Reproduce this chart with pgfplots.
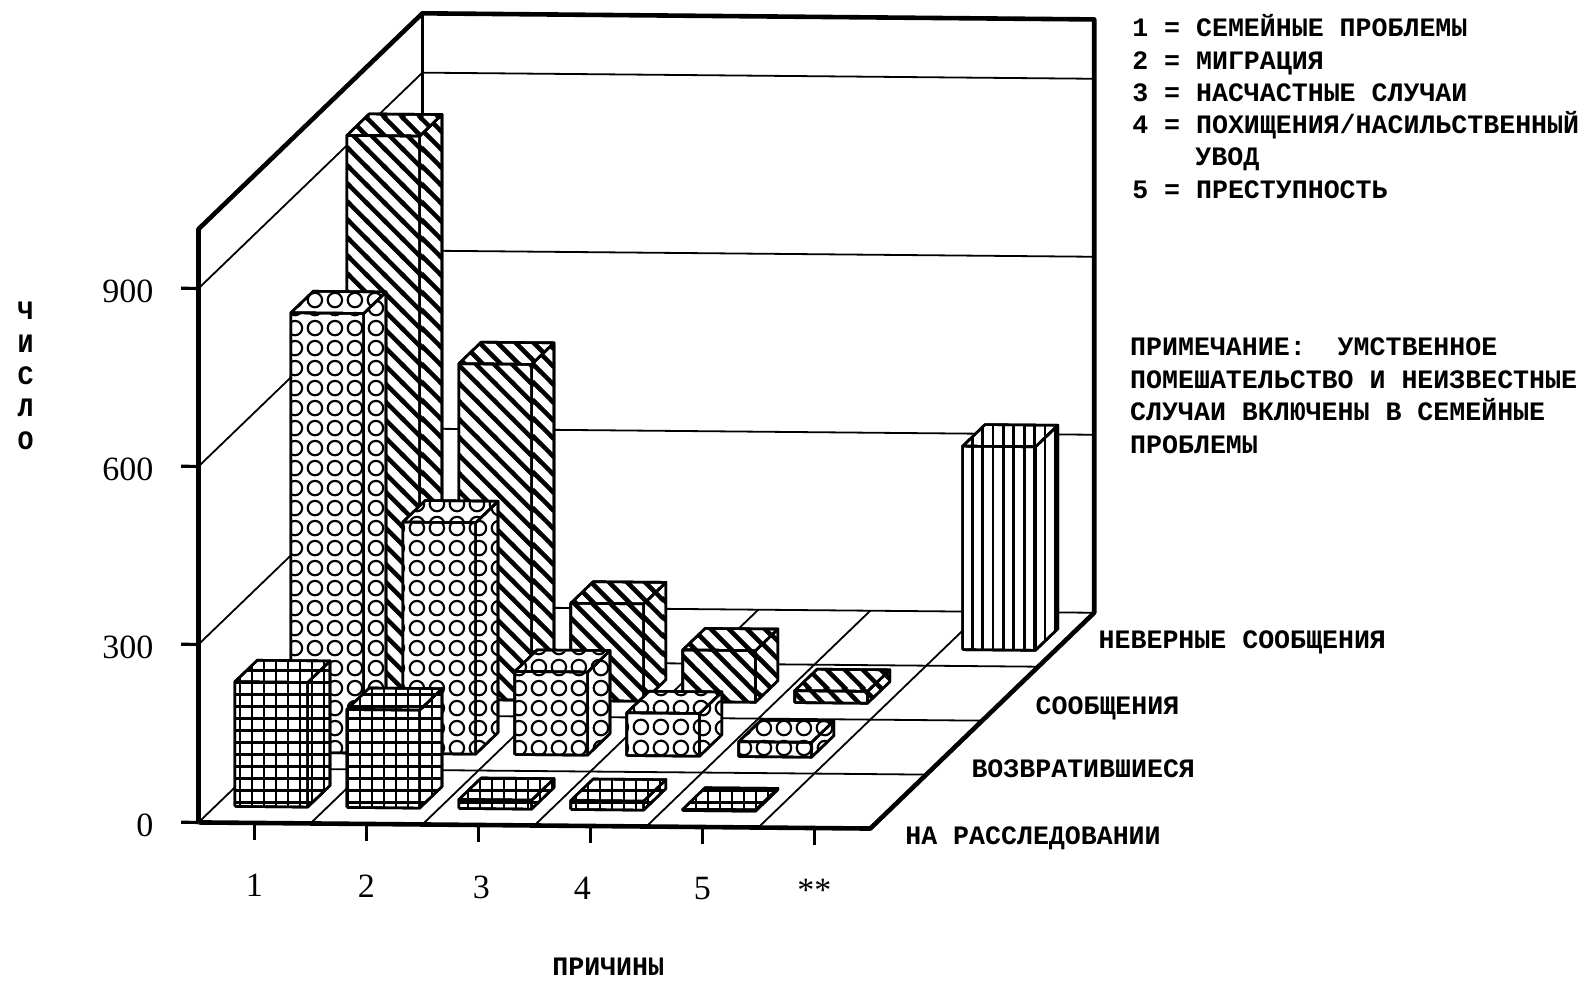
\documentclass[border=0pt]{standalone}
\usepackage{fontspec}
\usepackage{pgfplots}
\pgfplotsset{compat=1.18}
\usetikzlibrary{patterns}
\newfontfamily\labfont{Liberation Mono}
\newfontfamily\serfont{Liberation Serif}
\newcommand\lbl{\fontsize{13.3}{16.2}\selectfont\labfont\bfseries}
\newcommand\num{\fontsize{17}{18}\selectfont\serfont}
\newcommand\rowlab[3]{\hspace*{#1}\smash{\raisebox{#2}{#3}}}
% hatch fills of the bars
\pgfdeclarepatternformonly{gridP}{\pgfqpoint{-1pt}{-1pt}}{\pgfqpoint{7pt}{7pt}}{\pgfqpoint{6pt}{6pt}}{%
  \pgfsetlinewidth{1.3pt}%
  \pgfpathmoveto{\pgfqpoint{0pt}{-1pt}}\pgfpathlineto{\pgfqpoint{0pt}{7pt}}%
  \pgfpathmoveto{\pgfqpoint{-1pt}{0pt}}\pgfpathlineto{\pgfqpoint{7pt}{0pt}}%
  \pgfusepath{stroke}}
\pgfdeclarepatternformonly{ringP}{\pgfqpoint{0pt}{0pt}}{\pgfqpoint{10.2pt}{10.2pt}}{\pgfqpoint{10.2pt}{10.2pt}}{%
  \pgfsetlinewidth{1.1pt}%
  \pgfpathcircle{\pgfqpoint{5.1pt}{5.1pt}}{3.7pt}%
  \pgfusepath{stroke}}
\pgfdeclarepatternformonly{stripeP}{\pgfqpoint{0pt}{0pt}}{\pgfqpoint{9.2pt}{9.2pt}}{\pgfqpoint{9.2pt}{9.2pt}}{%
  \pgfsetlinewidth{2.3pt}%
  \pgfpathmoveto{\pgfqpoint{-1pt}{10.2pt}}\pgfpathlineto{\pgfqpoint{10.2pt}{-1pt}}%
  \pgfpathmoveto{\pgfqpoint{-1pt}{1pt}}\pgfpathlineto{\pgfqpoint{1pt}{-1pt}}%
  \pgfpathmoveto{\pgfqpoint{8.2pt}{10.2pt}}\pgfpathlineto{\pgfqpoint{10.2pt}{8.2pt}}%
  \pgfusepath{stroke}}
\pgfdeclarepatternformonly{vertP}{\pgfqpoint{0pt}{-1pt}}{\pgfqpoint{5.2pt}{5pt}}{\pgfqpoint{5.2pt}{4pt}}{%
  \pgfsetlinewidth{1.4pt}%
  \pgfpathmoveto{\pgfqpoint{2.6pt}{-1pt}}\pgfpathlineto{\pgfqpoint{2.6pt}{5pt}}%
  \pgfusepath{stroke}}
% one cuboid: column, row, value, hatch
\newcommand{\cuboid}[4]{%
  \pgfmathsetmacro\xa{#1+0.175}\pgfmathsetmacro\xb{#1+0.825}%
  \pgfmathsetmacro\ya{#2+0.30}\pgfmathsetmacro\yb{#2+0.70}%
  \addplot3[barface,postaction={pattern=#4}] coordinates {(\xb,\ya,0)(\xb,\yb,0)(\xb,\yb,#3)(\xb,\ya,#3)(\xb,\ya,0)};
  \addplot3[barface,postaction={pattern=#4}] coordinates {(\xa,\ya,#3)(\xb,\ya,#3)(\xb,\yb,#3)(\xa,\yb,#3)(\xa,\ya,#3)};
  \addplot3[barface,postaction={pattern=#4}] coordinates {(\xa,\ya,0)(\xb,\ya,0)(\xb,\ya,#3)(\xa,\ya,#3)(\xa,\ya,0)};
}
\begin{document}
\begin{tikzpicture}[x=0.509pt,y=-0.509pt]
\path[use as bounding box,fill=white] (0,0) rectangle (1568,965);
\begin{axis}[
  anchor=origin, at={(99.255pt,-411.27pt)},
  x={(55.99pt,-0.509pt)}, y={(27.995pt,26.977pt)}, z={(0pt,0.2967pt)},
  xmin=0,xmax=6,ymin=0,ymax=4,zmin=0,zmax=1000,
  clip=false,
  axis line style={draw=none},
  major tick length=0pt,
  tick style={draw=none},
  xtick={0.5,1.5,2.5,3.5,4.5,5.5},
  xticklabels={1,2,{\hspace*{3pt}3},{4\hspace*{8pt}},5,{\raisebox{-10pt}{**}}},
  ytick={0.5,1.5,2.5,3.5},
  yticklabels={{\rowlab{0pt}{-21.4pt}{НА РАССЛЕДОВАНИИ}},{\rowlab{5.1pt}{-14.8pt}{ВОЗВРАТИВШИЕСЯ}},{\rowlab{9.2pt}{-10.2pt}{СООБЩЕНИЯ}},{\rowlab{12.7pt}{-4.6pt}{НЕВЕРНЫЕ СООБЩЕНИЯ}}},
  ztick={0,300,600,900},
  zticklabels={0,300,600,900},
  xticklabel style={font=\num,anchor=center,yshift=-31pt},
  yticklabel style={font=\lbl,anchor=west},
  zticklabel style={font=\num,anchor=east,xshift=-19pt,yshift=-1.5pt},
  xlabel={ПРИЧИНЫ},
  zlabel={Ч\\И\\С\\Л\\О},
  every axis x label/.style={at={(axis cs:3.66,0,-237)},anchor=center,font=\lbl},
  every axis z label/.style={at={(axis cs:-1.545,0,750)},anchor=center,align=center,font=\lbl},
  barface/.style={draw=black,line width=1.3pt,line join=round,fill=white},
  wall/.style={black,line width=0.9pt},
  frame/.style={black,line width=2.3pt,line join=round},
]
% walls and floor
\addplot3[wall] coordinates {(0,0,300)(0,4,300)(6,4,300)};
\addplot3[wall] coordinates {(0,0,600)(0,4,600)(6,4,600)};
\addplot3[wall] coordinates {(0,0,900)(0,4,900)(6,4,900)};
\addplot3[wall,line width=1.1pt] coordinates {(0,4,0)(0,4,1000)};
\addplot3[wall] coordinates {(0,0,0)(0,4,0)(6,4,0)};
\addplot3[wall] coordinates {(0,1,0)(6,1,0)};
\addplot3[wall] coordinates {(0,2,0)(6,2,0)};
\addplot3[wall] coordinates {(0,3,0)(6,3,0)};
\addplot3[wall] coordinates {(1,0,0)(1,4,0)};
\addplot3[wall] coordinates {(2,0,0)(2,4,0)};
\addplot3[wall] coordinates {(3,0,0)(3,4,0)};
\addplot3[wall] coordinates {(4,0,0)(4,4,0)};
\addplot3[wall] coordinates {(5,0,0)(5,4,0)};
\addplot3[frame] coordinates {(0,0,0)(0,0,1000)(0,4,1000)(6,4,1000)(6,4,0)(6,0,0)(0,0,0)};
% ticks
\addplot3[frame,line width=1.6pt] coordinates {(0.5,0,0)(0.5,0,-28)};
\addplot3[frame,line width=1.6pt] coordinates {(1.5,0,0)(1.5,0,-28)};
\addplot3[frame,line width=1.6pt] coordinates {(2.5,0,0)(2.5,0,-28)};
\addplot3[frame,line width=1.6pt] coordinates {(3.5,0,0)(3.5,0,-28)};
\addplot3[frame,line width=1.6pt] coordinates {(4.5,0,0)(4.5,0,-28)};
\addplot3[frame,line width=1.6pt] coordinates {(5.5,0,0)(5.5,0,-28)};
\addplot3[frame,line width=1.6pt] coordinates {(0,0,0)(-0.155,0,0)};
\addplot3[frame,line width=1.6pt] coordinates {(0,0,300)(-0.155,0,300)};
\addplot3[frame,line width=1.6pt] coordinates {(0,0,600)(-0.155,0,600)};
\addplot3[frame,line width=1.6pt] coordinates {(0,0,900)(-0.155,0,900)};
% bars, back row first: НЕВЕРНЫЕ СООБЩЕНИЯ
\cuboid{5}{3}{343}{vertP}
% СООБЩЕНИЯ
\cuboid{0}{2}{949}{stripeP}
\cuboid{1}{2}{566}{stripeP}
\cuboid{2}{2}{164}{stripeP}
\cuboid{3}{2}{87}{stripeP}
\cuboid{4}{2}{20}{stripeP}
% ВОЗВРАТИВШИЕСЯ
\cuboid{0}{1}{741}{ringP}
\cuboid{1}{1}{390}{ringP}
\cuboid{2}{1}{140}{ringP}
\cuboid{3}{1}{72}{ringP}
\cuboid{4}{1}{25}{ringP}
% НА РАССЛЕДОВАНИИ
\cuboid{0}{0}{210}{gridP}
\cuboid{1}{0}{165}{gridP}
\cuboid{2}{0}{15}{gridP}
\cuboid{3}{0}{15}{gridP}
\cuboid{4}{0}{2}{gridP}
\end{axis}
\tikzset{note/.style={anchor=base west,inner sep=0pt,font=\lbl}}
\node[note] at (1112,36) {1 = СЕМЕЙНЫЕ ПРОБЛЕМЫ};
\node[note] at (1112,68) {2 = МИГРАЦИЯ};
\node[note] at (1112,100) {3 = НАСЧАСТНЫЕ СЛУЧАИ};
\node[note] at (1112,131) {4 = ПОХИЩЕНИЯ/НАСИЛЬСТВЕННЫЙ};
\node[note] at (1174,163) {УВОД};
\node[note] at (1112,195) {5 = ПРЕСТУПНОСТЬ};
\node[note] at (1110,349) {ПРИМЕЧАНИЕ:\ \ УМСТВЕННОЕ};
\node[note] at (1110,382) {ПОМЕШАТЕЛЬСТВО И НЕИЗВЕСТНЫЕ};
\node[note] at (1110,413) {СЛУЧАИ ВКЛЮЧЕНЫ В СЕМЕЙНЫЕ};
\node[note] at (1110,446) {ПРОБЛЕМЫ};
\end{tikzpicture}
\end{document}
